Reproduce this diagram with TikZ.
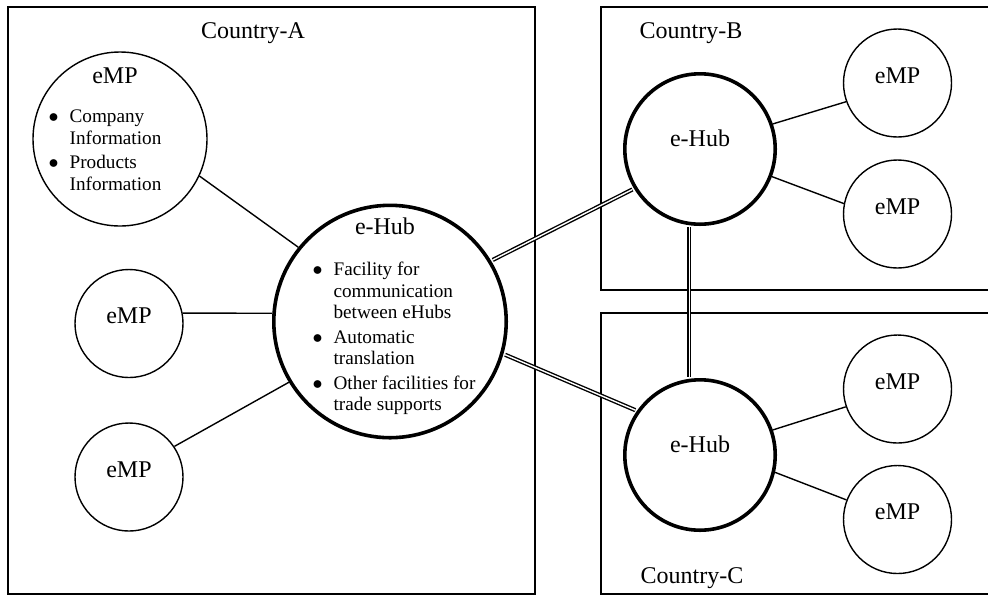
\documentclass[tikz,border=0pt]{standalone}
\usepackage{fontspec}
\setmainfont{Liberation Serif}

\newcommand{\mainsize}{\fontsize{12}{14.4}\selectfont}
\newcommand{\listsize}{\fontsize{9.6}{10.8}\selectfont}
\newcommand{\dotmark}{$\bullet$}

\tikzset{
    every node/.style={font=\mainsize},
    box/.style={line width=0.8pt},
    emp/.style={circle, draw, line width=0.7pt, minimum size=54pt, inner sep=0pt,
        text height=8pt, text depth=8pt},
    bigemp/.style={circle, draw, line width=0.7pt, minimum size=87pt, inner sep=0pt},
    hub/.style={circle, draw, line width=1.8pt, minimum size=75.2pt, inner sep=0pt,
        text height=8pt, text depth=10.8pt},
    bighub/.style={circle, draw, line width=1.8pt, minimum size=116.2pt, inner sep=0pt},
    txt/.style={inner sep=0pt, anchor=north},
    link/.style={line width=0.7pt},
    dlink/.style={double, double distance=0.7pt, line width=0.7pt,
        shorten <=0.9pt, shorten >=0.9pt}
}

\begin{document}
\begin{tikzpicture}[x=0.5pt, y=-0.5pt]
    % Fix the size of the picture
    \useasboundingbox (0,0) rectangle (988,596);

    % Draw country boxes
    \draw[box] (8,7) rectangle (535,594);
    \draw[box] (995,7) -| (601,290) -- (995,290);
    \draw[box] (995,313) -| (601,594) -- (995,594);

    % Country names
    \node[anchor=base] (nameA) at (253,38) {Country-A};
    \node[anchor=base] (nameB) at (691,38) {Country-B};
    \node[anchor=base] (nameC) at (692,583) {Country-C};

    % Draw hubs
    \node[bighub] (hubA) at (390,321.5) {};
    \node[hub] (hubB) at (700,149) {e-Hub};
    \node[hub] (hubC) at (700,455) {e-Hub};

    % Text of the main hub
    \node[txt] (hubAtext) at (385,217) {\listsize
        \begin{tabular}{@{\hspace{9pt}}c@{\hspace{5.5pt}}l@{}}
            \multicolumn{2}{@{}c@{}}{\mainsize e-Hub}\\[10pt]
            \dotmark & Facility for\\
                     & communication\\
                     & between eHubs\\[1.4pt]
            \dotmark & Automatic\\
                     & translation\\[1.4pt]
            \dotmark & Other facilities for\\
                     & trade supports
        \end{tabular}};

    % Draw eMPs of Country-A
    \node[bigemp] (empA1) at (120,139) {};
    \node[emp] (empA2) at (129,323.5) {eMP};
    \node[emp] (empA3) at (129,477) {eMP};

    % Text of the first eMP
    \node[txt] (empA1text) at (115,67.5) {\listsize
        \begin{tabular}{@{}c@{\hspace{5.5pt}}l@{\hspace{10pt}}}
            \multicolumn{2}{@{}c@{}}{\mainsize eMP}\\[8.7pt]
            \dotmark & Company\\
                     & Information\\[1.4pt]
            \dotmark & Products\\
                     & Information
        \end{tabular}};

    % Draw eMPs of Country-B and Country-C
    \node[emp] (empB1) at (897.5,83) {eMP};
    \node[emp] (empB2) at (897.5,214) {eMP};
    \node[emp] (empC1) at (897.5,389) {eMP};
    \node[emp] (empC2) at (897.5,519.5) {eMP};

    % Connect eMPs to hubs
    \draw[link] (empA1.-25) -- (hubA.141);
    \draw[link] (empA2.11) -- (hubA.176);
    \draw[link] (empA3.34) -- (hubA.211);
    \draw[link] (hubB.19) -- (empB1.200);
    \draw[link] (hubB.-21) -- (empB2.169);
    \draw[link] (hubC.19) -- (empC1.199);
    \draw[link] (hubC.-13.5) -- (empC2.159);

    % Connect hubs
    \draw[dlink] (hubA.31) -- (hubB.211);
    \draw[dlink] (hubA.-16) -- (hubC.145);
    \draw[dlink] (hubB.-98) -- (hubC.98);
\end{tikzpicture}
\end{document}
